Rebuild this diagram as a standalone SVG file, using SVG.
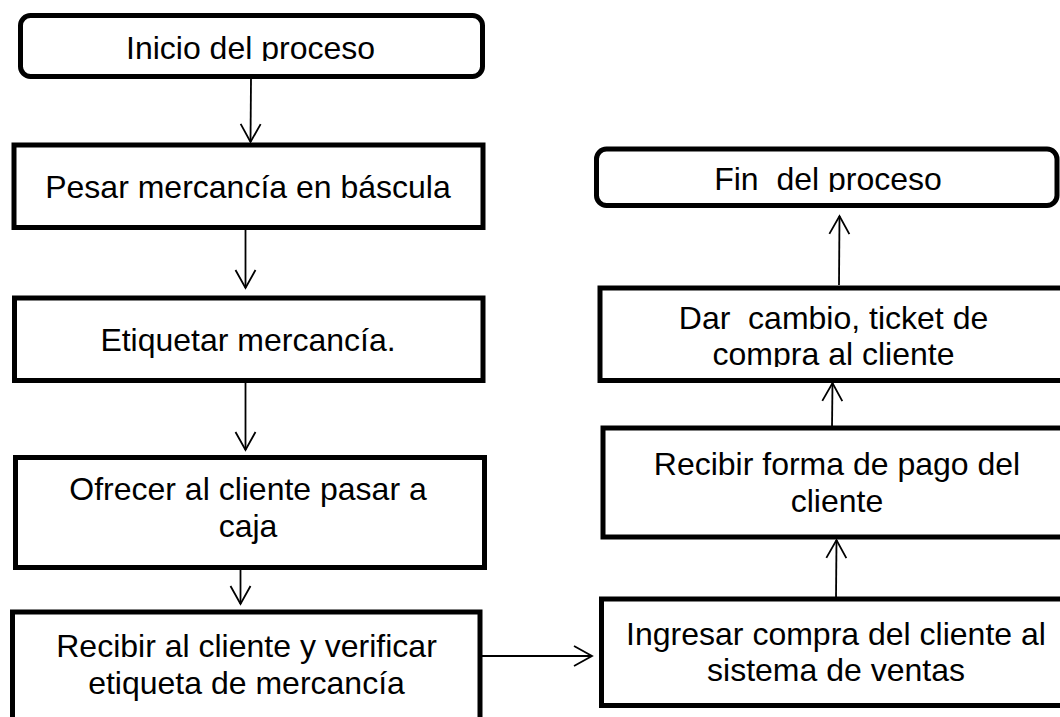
<svg xmlns="http://www.w3.org/2000/svg" width="1060" height="717" viewBox="0 0 1060 717">
  <style>
    .box { fill: #ffffff; stroke: #000000; stroke-width: 5; }
    .lbl { font-family: "Liberation Sans", Arial, sans-serif; font-size: 32px; fill: #000000; text-anchor: middle; white-space: pre; }
    .edge { fill: none; stroke: #000000; stroke-width: 1.8; marker-end: url(#arrow); }
  </style>
  <defs>
    <marker id="arrow" markerUnits="userSpaceOnUse" markerWidth="22" markerHeight="26" viewBox="0 0 22 26" refX="20" refY="13" orient="auto">
      <path d="M2,3 L20,13 L2,23" fill="none" stroke="#000000" stroke-width="1.8"/>
    </marker>
    <clipPath id="clipInicio"><rect x="0" y="0" width="1060" height="61"/></clipPath>
    <clipPath id="clipFin"><rect x="0" y="0" width="1060" height="192"/></clipPath>
    <clipPath id="clipDar"><rect x="0" y="0" width="1060" height="367"/></clipPath>
  </defs>
  <rect width="1060" height="717" fill="#ffffff"/>

  <g id="connectors">
    <path class="edge" d="M251 79 L250.5 142"/>
    <path class="edge" d="M245.5 223 L245.5 288"/>
    <path class="edge" d="M245.5 383 L245.5 450"/>
    <path class="edge" d="M240.5 570 L240.5 604"/>
    <path class="edge" d="M475 656 L592 656"/>
    <path class="edge" d="M836 599 L836.5 540"/>
    <path class="edge" d="M832 428 L832.5 383"/>
    <path class="edge" d="M839 285 L839.5 216"/>
  </g>

  <g id="n-inicio">
    <rect class="box" x="20.5" y="15.5" width="462" height="61" rx="10" ry="10"/>
    <text class="lbl" x="250.5" y="59" clip-path="url(#clipInicio)">Inicio del proceso</text>
  </g>

  <g id="n-pesar">
    <rect class="box" x="14" y="145" width="469" height="82.5"/>
    <text class="lbl" x="248" y="198">Pesar mercancía en báscula</text>
  </g>

  <g id="n-etiquetar">
    <rect class="box" x="14.5" y="298" width="468.5" height="82.5"/>
    <text class="lbl" x="248" y="351">Etiquetar mercancía.</text>
  </g>

  <g id="n-ofrecer">
    <rect class="box" x="15.5" y="457.5" width="469" height="110"/>
    <text class="lbl" x="248" y="500">Ofrecer al cliente pasar a</text>
    <text class="lbl" x="248" y="537">caja</text>
  </g>

  <g id="n-recibir-cliente">
    <rect class="box" x="12.5" y="612" width="467.5" height="120"/>
    <text class="lbl" x="246.5" y="657">Recibir al cliente y verificar</text>
    <text class="lbl" x="246.5" y="694">etiqueta de mercancía</text>
  </g>

  <g id="n-ingresar">
    <rect class="box" x="601.5" y="599" width="470" height="106.5"/>
    <text class="lbl" x="836" y="645">Ingresar compra del cliente al</text>
    <text class="lbl" x="836" y="681">sistema de ventas</text>
  </g>

  <g id="n-pago">
    <rect class="box" x="603" y="428" width="470" height="109"/>
    <text class="lbl" x="837" y="475">Recibir forma de pago del</text>
    <text class="lbl" x="837" y="512">cliente</text>
  </g>

  <g id="n-cambio">
    <rect class="box" x="600" y="288" width="470" height="92.5"/>
    <text class="lbl" x="833.5" y="329">Dar  cambio, ticket de</text>
    <text class="lbl" x="833.5" y="365" clip-path="url(#clipDar)">compra al cliente</text>
  </g>

  <g id="n-fin">
    <rect class="box" x="596.5" y="149" width="460.5" height="56.5" rx="10" ry="10"/>
    <text class="lbl" x="828" y="190" clip-path="url(#clipFin)">Fin  del proceso</text>
  </g>
</svg>
